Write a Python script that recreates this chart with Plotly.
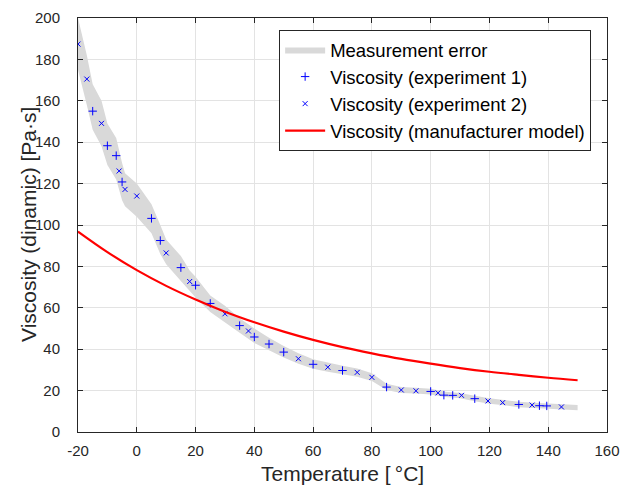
import plotly.graph_objects as go

# Experiment 1 (+)
exp1_T = [-15, -10, -7, -5, 5, 8, 15, 20, 25, 35, 40, 45, 50, 60, 70, 85, 100, 104.5, 107.5, 115, 130, 137, 139.5]
exp1_V = [155, 138.3, 133.5, 120.8, 103.2, 92.5, 79.4, 70.9, 62.1, 51.4, 45.9, 42.5, 38.6, 32.7, 29.7, 21.7, 19.6, 17.8, 17.7, 16.1, 13.3, 12.7, 12.6]

# Experiment 2 (x)
exp2_T = [-20, -17, -12, -6, -4, 0, 10, 18, 30, 38, 55, 65, 75, 80, 90, 95, 102.5, 110.5, 119.5, 124.5, 134.5, 144.5]
exp2_V = [187.4, 170.5, 149.1, 126.1, 117.2, 114, 86.5, 72.7, 57.1, 48.8, 35.4, 31.3, 28.8, 26.4, 20.3, 19.9, 18.9, 17.7, 15.0, 14.2, 13.0, 12.1]

# Manufacturer model
model_T = [-20, -10, 0, 10, 20, 30, 40, 50, 60, 70, 80, 90, 100, 110, 120, 130, 140, 150]
model_V = [96.8, 86.9, 78.2, 70.6, 64.0, 58.1, 53.0, 48.5, 44.5, 41.0, 38.0, 35.3, 33.0, 30.9, 29.1, 27.6, 26.2, 25.0]

# Measurement error band
band_T = [-20, -17, -15, -12, -10, -7, -5, -4, 0, 5, 8, 10, 15, 18, 20, 25, 30, 35, 40, 45, 50, 55, 60,
          65, 70, 75, 80, 85, 90, 95, 100, 105, 110, 115, 120, 125, 130, 135, 140, 145, 150]
band_lower = [175, 158, 146, 138, 129, 122, 112, 109, 104, 96, 86, 81, 73, 68, 65, 58, 53, 48, 43, 39.5, 36, 33, 30.5,
              29.1, 27.8, 26.7, 24.6, 20.3, 18.9, 18.6, 18.1, 16.9, 16.3, 14.9, 13.7, 12.9, 12.0, 11.5, 11.2, 10.8, 10.5]
band_upper = [200, 182, 168, 160, 149, 142, 130, 125, 120, 110, 100, 93, 85, 78, 75, 66, 61, 55, 50, 45.5, 41.6, 38, 35.1,
              33.5, 32, 30.7, 28.4, 23.3, 21.7, 21.4, 20.9, 19.5, 18.9, 17.5, 16.3, 15.5, 14.6, 14.1, 13.8, 13.4, 13.1]

x_ticks = [-20, 0, 20, 40, 60, 80, 100, 120, 140, 160]
x_ticklabels = ["-20", "0", "20", "40", "60", "80", "100", "120", "140", "160"]
y_ticks = [0, 20, 40, 60, 80, 100, 120, 140, 160, 180, 200]

x_title = "Temperature [\u2009°C]"
y_title = "Viscosity (dinamic) [Pa·s]"

FONT = "Liberation Sans, Arial, sans-serif"

fig = go.Figure()
fig.add_trace(go.Scatter(
    x=band_T + band_T[::-1], y=band_upper + band_lower[::-1],
    fill="toself", fillcolor="#d9d9d9", line=dict(width=0, color="#d9d9d9"),
    mode="lines", name="Measurement error", hoverinfo="skip"))
fig.add_trace(go.Scatter(
    x=exp1_T, y=exp1_V, mode="markers", name="Viscosity (experiment 1)",
    marker=dict(symbol="cross-thin", size=6, line=dict(width=1, color="#0000ff"), color="#0000ff")))
fig.add_trace(go.Scatter(
    x=exp2_T, y=exp2_V, mode="markers", name="Viscosity (experiment 2)",
    marker=dict(symbol="x-thin", size=5, line=dict(width=1, color="#0000ff"), color="#0000ff")))
fig.add_trace(go.Scatter(
    x=model_T, y=model_V, mode="lines", name="Viscosity (manufacturer model)",
    line=dict(color="#ff0000", width=2.2, shape="spline")))

axis_common = dict(
    showgrid=True, gridcolor="#e3e3e3", gridwidth=1,
    showline=True, linecolor="#262626", linewidth=1, mirror="ticks",
    ticks="inside", ticklen=5, tickcolor="#262626",
    tickfont=dict(family=FONT, size=15, color="#262626"),
    zeroline=False, automargin=False,
)

fig.update_layout(
    width=621, height=490,
    margin=dict(l=77.5, r=14, t=18, b=58),
    paper_bgcolor="white", plot_bgcolor="white",
    font=dict(family=FONT, color="#262626"),
    showlegend=True,
    legend=dict(
        x=0.970, y=0.971, xanchor="right", yanchor="top",
        bgcolor="white", bordercolor="#262626", borderwidth=1,
        font=dict(family=FONT, size=18.5, color="#000000"),
        tracegroupgap=0, itemwidth=40,
    ),
    xaxis=dict(range=[-20, 160], tickvals=x_ticks, ticktext=x_ticklabels, ticklabelstandoff=5,
               **axis_common),
    yaxis=dict(range=[0, 200], tickvals=y_ticks, ticklabelstandoff=14,
               **axis_common),
    annotations=[
        dict(text=x_title, xref="paper", yref="paper", x=0.5, y=0, xanchor="center", yanchor="middle",
             yshift=-41, showarrow=False, font=dict(family=FONT, size=21, color="#262626")),
        dict(text=y_title, xref="paper", yref="paper", x=0, y=0.5, xanchor="center", yanchor="middle",
             xshift=-50, textangle=-90, showarrow=False, font=dict(family=FONT, size=21, color="#262626")),
    ],
)

fig.write_html(
    "out.html",
    config={"displayModeBar": False},
    post_script="document.body.style.margin='0';document.body.style.overflow='hidden';",
)
